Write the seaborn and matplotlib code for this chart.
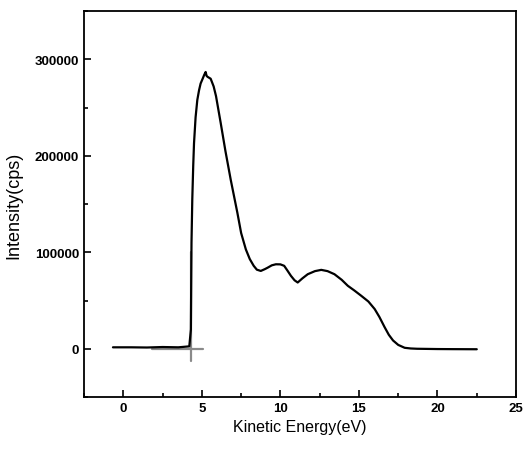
import pandas as pd
import matplotlib.pyplot as plt
import seaborn as sns
from matplotlib.ticker import MultipleLocator

# spectrum

energy = [-0.66, 0.5, 1.5, 2.5, 3.5, 4.2, 4.3, 4.34, 4.39, 4.45, 4.5, 4.6, 4.71, 4.82,
          4.92, 5.05, 5.15, 5.24, 5.3, 5.36, 5.56, 5.75, 5.9, 6.05, 6.2, 6.5, 6.84,
          7.05, 7.26, 7.5, 7.8, 8.05, 8.3, 8.5, 8.75, 9.0, 9.18, 9.45, 9.71, 10.0,
          10.24, 10.45, 10.67, 10.9, 11.1, 11.4, 11.74, 12.2, 12.6, 13.0, 13.44, 13.9,
          14.29, 14.7, 15.14, 15.6, 16.0, 16.3, 16.63, 16.9, 17.17, 17.5, 17.91, 18.3,
          18.7, 20.0, 21.0, 22.5]
intensity = [1500, 1500, 1300, 1800, 1500, 2500, 20000, 110000, 155000, 190000, 213000,
             240000, 258000, 268000, 275000, 280000, 284000, 287000, 283000, 282000,
             280000, 272000, 262000, 248000, 234000, 205000, 175000, 158000, 141000,
             120000, 103000, 93000, 86000, 82000, 80700, 82500, 84000, 86500, 87600,
             87500, 86000, 81000, 75600, 71000, 68700, 73000, 77300, 80500, 81800,
             80500, 77300, 71500, 65300, 60500, 55000, 49000, 41200, 33000, 22500,
             14500, 8600, 4000, 1000, 300, 0, -300, -400, -500]

# grey cursor cross at the onset
cross_x = [1.83, 5.09]
cross_y = [-13000, 100000]
cross_pos = (4.32, 0)

df = pd.DataFrame({'energy': energy, 'intensity': intensity})

sns.set_style("ticks")
plt.rcParams['font.family'] = ['Liberation Sans', 'DejaVu Sans']
plt.rcParams['xtick.direction'] = 'in'
plt.rcParams['ytick.direction'] = 'in'
plt.rcParams['text.color'] = 'black'
plt.rcParams['axes.labelcolor'] = 'black'
plt.rcParams['xtick.color'] = 'black'
plt.rcParams['ytick.color'] = 'black'
plt.rcParams['axes.edgecolor'] = 'black'

fig = plt.figure(figsize=(5.32, 4.52), dpi=100)
ax = fig.add_axes([0.158, 0.1195, 0.812, 0.8535])

ax.plot(cross_x, [cross_pos[1]] * 2, color='#8a8a8a', lw=1.6, zorder=1)
ax.plot([cross_pos[0]] * 2, cross_y, color='#8a8a8a', lw=1.6, zorder=1)

sns.lineplot(data=df, x='energy', y='intensity', color='black', lw=1.6, ax=ax,
             sort=False, zorder=2)

ax.set_xlim(-2.5, 25)
ax.set_ylim(-50000, 350000)
ax.xaxis.set_major_locator(MultipleLocator(5))
ax.xaxis.set_minor_locator(MultipleLocator(2.5))
ax.yaxis.set_major_locator(MultipleLocator(100000))
ax.yaxis.set_minor_locator(MultipleLocator(50000))
ax.set_yticks([0, 100000, 200000, 300000])
ax.tick_params(which='major', length=5, width=1.2, labelsize=9.5)
ax.tick_params(which='minor', length=3, width=1.2)
for lab in ax.get_xticklabels() + ax.get_yticklabels():
    lab.set_fontweight('bold')

for s in ax.spines.values():
    s.set_linewidth(1.3)

ax.set_xlabel('Kinetic Energy(eV)', fontsize=11.5)
ax.set_ylabel('Intensity(cps)', fontsize=13, labelpad=9)

fig.savefig('out.png', dpi=100)
